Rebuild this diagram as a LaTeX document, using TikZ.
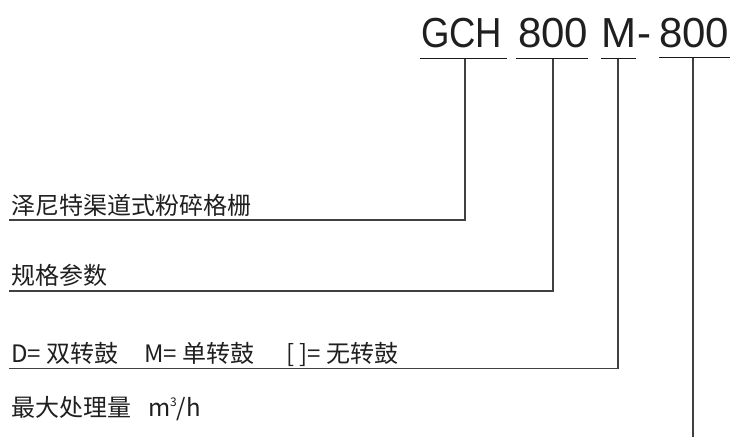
\documentclass[tikz,border=0pt]{standalone}
\usepackage{fontspec}
\setmainfont{Liberation Sans}
\newfontfamily\cjk{Noto Sans CJK SC}
\tikzset{
  big/.style={anchor=base west, inner sep=0pt, outer sep=0pt, text=black!88,
    font=\fontsize{42}{42}\selectfont},
  lbl/.style={anchor=base west, inner sep=0pt, outer sep=0pt, text=black!88,
    font=\cjk\fontsize{24}{24}\selectfont},
  uline/.style={line width=1.4pt, draw=black!90},
  conn/.style={line width=1.2pt, draw=black!75},
}
\begin{document}
\begin{tikzpicture}[x=1pt,y=-1pt]
\useasboundingbox (0,0) rectangle (730,437);
% code text
\node[big, xscale=0.87] (gch) at (421,47) {GCH};
\node[big] (n1) at (518,47) {800};
\node[big] (m) at (601,47) {M};
\node[big] (dash) at (637,47) {-};
\node[big] (n2) at (659,47) {800};
% underlines
\coordinate (u1a) at (420,58.5); \coordinate (u1b) at (507,58.5);
\coordinate (u2a) at (516,58.5); \coordinate (u2b) at (588,58.5);
\coordinate (u3a) at (601,58.5); \coordinate (u3b) at (636,58.5);
\coordinate (u4a) at (659,57.5); \coordinate (u4b) at (730,57.5);
\draw[uline] (u1a) -- (u1b);
\draw[uline] (u2a) -- (u2b);
\draw[uline] (u3a) -- (u3b);
\draw[uline] (u4a) -- (u4b);
% labels
\node[lbl] (l1) at (11,214) {泽尼特渠道式粉碎格栅};
\node[lbl] (l2) at (11,284) {规格参数};
\node[lbl] (l3a) at (11,362.5) {D= 双转鼓};
\node[lbl] (l3b) at (144,362.5) {M= 单转鼓};
\node[lbl] (l3c) at (286,362.5) {[ ]= 无转鼓};
\node[lbl] (l4a) at (11,416) {最大处理量};
\node[lbl] (l4b) at (148,416) {m\raisebox{10pt}{\fontsize{12}{12}\selectfont 3}/h};
% connectors
\coordinate (t1) at (465,59); \coordinate (c1) at (465,220); \coordinate (e1) at (9,220);
\coordinate (t2) at (553,59); \coordinate (c2) at (553,291); \coordinate (e2) at (9,291);
\coordinate (t3) at (618,59); \coordinate (c3) at (618,368.5); \coordinate (e3) at (9,368.5);
\coordinate (t4) at (693,58); \coordinate (c4) at (693,437);
\draw[conn] (t1) -- (c1) -- (e1);
\draw[conn] (t2) -- (c2) -- (e2);
\draw[conn] (t3) -- (c3) -- (e3);
\draw[conn] (t4) -- (c4);
\end{tikzpicture}
\end{document}
